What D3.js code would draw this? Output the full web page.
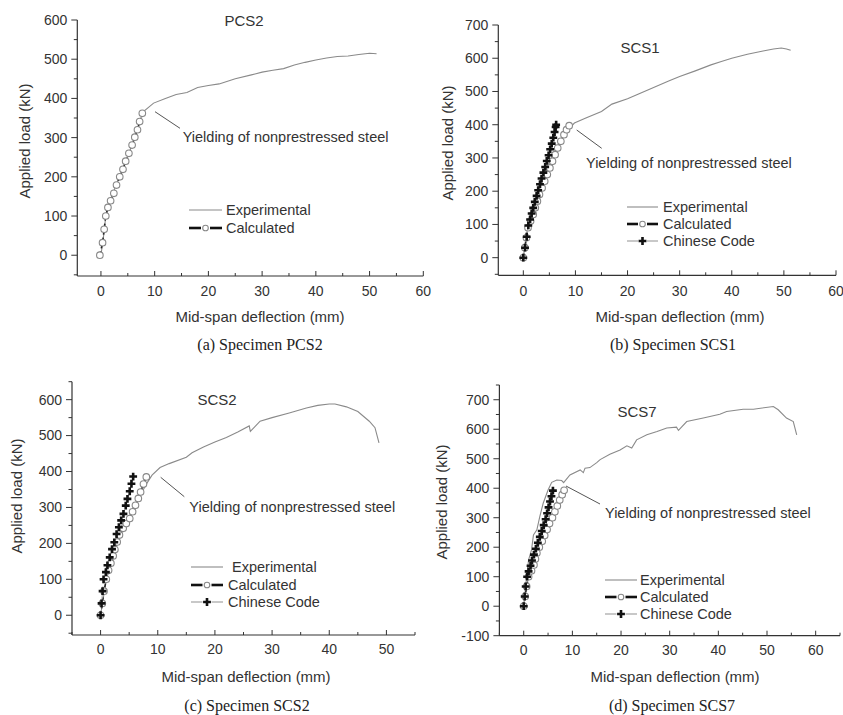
<!DOCTYPE html>
<html>
<head>
<meta charset="utf-8">
<script src="https://cdn.jsdelivr.net/npm/d3@7"></script>
<style>
  html, body { margin: 0; padding: 0; background: #fff; }
  svg { display: block; }
  text { font-family: "Liberation Sans", Arial, sans-serif; fill: #333; }
  .cap { font-family: "Liberation Serif", "Times New Roman", serif; fill: #222; }
</style>
</head>
<body>
<svg id="chart" width="843" height="715"></svg>
<script>
// ---------------- DATA ----------------
const xTickLabelsA = [0, 10, 20, 30, 40, 50, 60];
const yTickLabelsA = [0, 100, 200, 300, 400, 500, 600];
const yTickLabelsB = [0, 100, 200, 300, 400, 500, 600, 700];
const xTickLabelsC = [0, 10, 20, 30, 40, 50];
const yTickLabelsC = [0, 100, 200, 300, 400, 500, 600];
const xTickLabelsD = [0, 10, 20, 30, 40, 50, 60];
const yTickLabelsD = [-100, 0, 100, 200, 300, 400, 500, 600, 700];

const seriesNames = ["Experimental", "Calculated", "Chinese Code"];
const panelTitles = ["PCS2", "SCS1", "SCS2", "SCS7"];
const panelCaptions = ["(a) Specimen PCS2", "(b) Specimen SCS1", "(c) Specimen SCS2", "(d) Specimen SCS7"];
const annotationText = "Yielding of nonprestressed steel";
const xTitle = "Mid-span deflection (mm)";
const yTitle = "Applied load (kN)";

// (a) PCS2  [deflection mm, load kN]
const pcs2Exp = [[0,0],[0.5,50],[0.9,100],[2,150],[3,185],[4,218],[5,252],[6,290],[7,330],[7.8,365],[9.8,388],
  [12,400],[14,410],[16,415],[18,428],[20,433],[22,437],[25,450],[28,460],[30,467],[32,472],[34,476],[36,485],
  [38,492],[40,498],[42,503],[44,507],[46,508],[48,512],[50,515],[51.3,514]];
const pcs2Calc = [[-0.2,0],[0.3,32],[0.6,66],[0.9,100],[1.3,122],[1.8,139],[2.4,158],[2.9,179],[3.5,200],[4.1,219],
  [4.6,240],[5.2,260],[5.8,281],[6.3,301],[6.8,320],[7.2,341],[7.7,362]];

// (b) SCS1
const scs1Exp = [[0,0],[0.5,60],[1,100],[1.5,130],[2.2,155],[3,195],[4,245],[5,290],[6,320],[7,345],[8,375],[9.8,405],
  [12,420],[15,440],[17,462],[20,478],[22,492],[25,512],[28,532],[30,545],[33,562],[36,580],[38,590],[40,600],
  [43,612],[46,622],[48,628],[49.5,631],[50.5,628],[51.3,624]];
const scs1Calc = [[0,0],[0.3,30],[0.6,60],[0.9,90],[1.4,110],[1.9,130],[2.3,150],[2.7,170],[3.1,190],[3.6,210],
  [4.1,230],[4.6,250],[5.1,270],[5.6,290],[6.1,310],[6.6,330],[7.2,350],[7.8,370],[8.3,385],[8.8,397]];
const scs1Code = [[0,0],[0.33,30],[0.65,63],[0.96,97],[1.3,115],[1.6,133],[1.9,150],[2.2,168],[2.55,186],[2.85,203],
  [3.2,221],[3.5,238],[3.85,256],[4.2,273],[4.5,291],[4.85,308],[5.15,326],[5.45,343],[5.75,361],[6.0,378],[6.2,393],[6.3,400]];

// (c) SCS2
const scs2Exp = [[0,0],[0.5,50],[1,100],[2,150],[3,200],[4,240],[5,275],[6,305],[7,335],[8,365],[9,390],[10.4,411],
  [12,422],[15,440],[16,452],[18,468],[20,482],[22,495],[24,510],[26,527],[26.2,512],[27,525],[27.9,540],[30,550],
  [33,563],[36,577],[38,584],[40,588],[41,588],[43,580],[45,567],[47,540],[48,522],[48.7,480]];
const scs2Calc = [[0,0],[0.3,33],[0.6,67],[1.0,100],[1.4,125],[1.8,145],[2.2,165],[2.5,183],[2.9,204],[3.3,223],
  [3.95,242],[4.5,255],[5.1,269],[5.6,288],[6.1,306],[6.6,325],[7.0,343],[7.5,365],[8.0,385]];
const scs2Code = [[0,0],[0.17,33],[0.35,67],[0.52,100],[0.93,120],[1.2,139],[1.6,161],[2.0,184],[2.4,203],[2.8,226],
  [3.2,245],[3.6,264],[4.0,282],[4.4,305],[4.7,324],[5.1,345],[5.4,366],[5.7,386]];

// (d) SCS7
const scs7Exp = [[0,0],[0.3,50],[0.6,100],[1.0,157],[1.6,191],[2.0,242],[2.7,259],[3.3,304],[4.0,349],[5.0,394],
  [5.75,420],[6.8,428],[7.8,426],[8.2,419],[9.5,445],[11.6,462],[12.25,453],[12.6,468],[13.6,470],[15,487],[15.7,497],
  [17.7,515],[19.8,530],[21.2,544],[22.2,536],[23.2,564],[25.3,581],[27.4,592],[29.4,604],[31.4,607],[31.8,596],
  [33.5,626],[36.9,638],[40.3,651],[41.7,660],[45.1,668],[47.2,668],[51.3,677],[52.3,666],[54,638],[55.4,626],[56.1,581]];
const scs7Calc = [[0,0],[0.3,33],[0.6,67],[1.0,100],[1.6,120],[2.1,140],[2.4,160],[2.7,180],[3.2,200],[3.8,220],
  [4.3,240],[4.8,260],[5.3,280],[5.9,300],[6.4,320],[6.9,340],[7.4,360],[7.9,378],[8.3,393]];
const scs7Code = [[0,0],[0.2,33],[0.4,67],[0.7,100],[1.0,118],[1.4,137],[1.7,155],[2.1,175],[2.5,195],[2.9,215],
  [3.3,235],[3.7,255],[4.1,275],[4.5,295],[4.8,315],[5.1,335],[5.4,355],[5.7,373],[6.0,392]];

// ---------------- LAYOUT ----------------
const panels = [
  { exp: pcs2Exp, calc: pcs2Calc, code: null, xd: [-4.4, 60], xr: [77.3, 423.3], yd: [-53, 600], yr: [276, 20],
    xt: xTickLabelsA, yt: yTickLabelsA, minorY: 50,
    title: [244, 21], ytitle: [25, 141], xlab: [260, 317], cap: [260, 344], tickY: 296,
    lead: [[155, 111.7], [180, 128.3]], ann: [182.7, 141.5],
    leg: { x0: 189, x1: 222, tx: 226, ys: [210, 228] } },
  { exp: scs1Exp, calc: scs1Calc, code: scs1Code, xd: [-4.8, 60], xr: [498.3, 836], yd: [-53, 700], yr: [275.3, 25],
    xt: xTickLabelsA, yt: yTickLabelsB, minorY: 50,
    title: [640, 48], ytitle: [448, 143], xlab: [680, 317], cap: [673, 344], tickY: 296,
    lead: [[576.7, 130], [601.7, 148.3]], ann: [586, 168],
    leg: { x0: 627, x1: 658, tx: 663, ys: [207, 224, 241] } },
  { exp: scs2Exp, calc: scs2Calc, code: scs2Code, xd: [-5, 55], xr: [72, 415], yd: [-55, 650], yr: [635, 381.7],
    xt: xTickLabelsC, yt: yTickLabelsC, minorY: 50,
    title: [217, 400], ytitle: [17, 496], xlab: [246, 677], cap: [247, 705], tickY: 654,
    lead: [[160.7, 477.3], [184.3, 496.7]], ann: [189.3, 511.5],
    leg: { x0: 191, x1: 223, tx: 228, ys: [567, 585, 602] } },
  { exp: scs7Exp, calc: scs7Calc, code: scs7Code, xd: [-5, 65], xr: [499.4, 840], yd: [-100, 750], yr: [635.7, 385],
    xt: xTickLabelsD, yt: yTickLabelsD, minorY: 50,
    title: [637, 412], ytitle: [442, 502], xlab: [675, 677], cap: [672, 705], tickY: 655,
    lead: [[566, 486], [600, 504]], ann: [605, 518],
    leg: { x0: 605, x1: 637, tx: 640, ys: [580, 597, 614] } }
];

const svg = d3.select("#chart");
const AX = "#333";

panels.forEach((p, i) => {
  const g = svg.append("g");
  const x = d3.scaleLinear().domain(p.xd).range(p.xr);
  const y = d3.scaleLinear().domain(p.yd).range(p.yr);
  const x0 = p.xr[0], yB = p.yr[0];

  // axis lines
  g.append("line").attr("x1", x0).attr("x2", p.xr[1]).attr("y1", yB).attr("y2", yB)
    .attr("stroke", AX).attr("stroke-width", 1.2);
  g.append("line").attr("x1", x0).attr("x2", x0).attr("y1", yB).attr("y2", p.yr[1])
    .attr("stroke", AX).attr("stroke-width", 1.2);

  // x ticks (inward), major + minor
  const xMinor = d3.range(Math.ceil(p.xd[0] / 5) * 5, p.xd[1] + 0.01, 5);
  xMinor.forEach(v => {
    const major = Math.abs(v % 10) < 1e-9;
    g.append("line").attr("x1", x(v)).attr("x2", x(v)).attr("y1", yB).attr("y2", yB - (major ? 5 : 3))
      .attr("stroke", AX).attr("stroke-width", 1);
  });
  p.xt.forEach(v => {
    g.append("text").attr("x", x(v)).attr("y", p.tickY).attr("text-anchor", "middle")
      .attr("font-size", 14).text(v);
  });

  // y ticks (outward), major + minor
  const yMinor = d3.range(Math.ceil(p.yd[0] / p.minorY) * p.minorY, p.yd[1] + 0.01, p.minorY);
  yMinor.forEach(v => {
    const major = Math.abs(v % 100) < 1e-9;
    g.append("line").attr("x1", x0).attr("x2", x0 - (major ? 6 : 3.5)).attr("y1", y(v)).attr("y2", y(v))
      .attr("stroke", AX).attr("stroke-width", 1);
  });
  p.yt.forEach(v => {
    g.append("text").attr("x", x0 - 10).attr("y", y(v)).attr("dy", "0.35em").attr("text-anchor", "end")
      .attr("font-size", 14).text(v);
  });

  // titles
  g.append("text").attr("x", p.title[0]).attr("y", p.title[1]).attr("dy", "0.35em").attr("text-anchor", "middle")
    .attr("font-size", 15).text(panelTitles[i]);
  g.append("text").attr("transform", `translate(${p.ytitle[0]},${p.ytitle[1]}) rotate(-90)`)
    .attr("dy", "0.35em").attr("text-anchor", "middle").attr("font-size", 15).text(yTitle);
  g.append("text").attr("x", p.xlab[0]).attr("y", p.xlab[1]).attr("dy", "0.35em").attr("text-anchor", "middle")
    .attr("font-size", 15).text(xTitle);
  g.append("text").attr("class", "cap").attr("x", p.cap[0]).attr("y", p.cap[1]).attr("dy", "0.35em")
    .attr("text-anchor", "middle").attr("font-size", 16).text(panelCaptions[i]);

  const line = d3.line().x(d => x(d[0])).y(d => y(d[1]));

  // experimental
  g.append("path").attr("d", line(p.exp)).attr("fill", "none").attr("stroke", "#8a8a8a").attr("stroke-width", 1.1);

  // calculated
  g.append("path").attr("d", line(p.calc)).attr("fill", "none").attr("stroke", "#222")
    .attr("stroke-width", 1.6).attr("stroke-dasharray", "4,3");
  g.selectAll(null).data(p.calc).enter().append("circle")
    .attr("cx", d => x(d[0])).attr("cy", d => y(d[1])).attr("r", 3.3)
    .attr("fill", "#fff").attr("stroke", "#888").attr("stroke-width", 1.1);

  // chinese code
  const cross = d3.symbol().type(d3.symbolCross).size(34);
  if (p.code) {
    g.append("path").attr("d", line(p.code)).attr("fill", "none").attr("stroke", "#aaa")
      .attr("stroke-width", 1.1).attr("stroke-dasharray", "5,3");
    g.selectAll(null).data(p.code).enter().append("path")
      .attr("transform", d => `translate(${x(d[0])},${y(d[1])})`).attr("d", cross()).attr("fill", "#111");
  }

  // annotation
  g.append("line").attr("x1", p.lead[0][0]).attr("y1", p.lead[0][1]).attr("x2", p.lead[1][0]).attr("y2", p.lead[1][1])
    .attr("stroke", "#555").attr("stroke-width", 1);
  g.append("text").attr("x", p.ann[0]).attr("y", p.ann[1]).attr("font-size", 14.5).text(annotationText);

  // legend
  const L = p.leg, mid = (L.x0 + L.x1) / 2;
  g.append("line").attr("x1", L.x0).attr("x2", L.x1).attr("y1", L.ys[0]).attr("y2", L.ys[0])
    .attr("stroke", "#8a8a8a").attr("stroke-width", 1.1);
  g.append("text").attr("x", L.tx + (i === 2 ? 4 : 0)).attr("y", L.ys[0]).attr("dy", "0.35em").attr("font-size", 14.5).text(seriesNames[0]);
  [[L.x0, mid - 4.5], [mid + 4.5, L.x1]].forEach(s => {
    g.append("line").attr("x1", s[0]).attr("x2", s[1]).attr("y1", L.ys[1]).attr("y2", L.ys[1])
      .attr("stroke", "#111").attr("stroke-width", 2.6);
  });
  g.append("circle").attr("cx", mid).attr("cy", L.ys[1]).attr("r", 2.8).attr("fill", "#fff")
    .attr("stroke", "#888").attr("stroke-width", 1.1);
  g.append("text").attr("x", L.tx).attr("y", L.ys[1]).attr("dy", "0.35em").attr("font-size", 14.5).text(seriesNames[1]);
  if (p.code) {
    [[L.x0, mid - 4.5], [mid + 4.5, L.x1]].forEach(s => {
      g.append("line").attr("x1", s[0]).attr("x2", s[1]).attr("y1", L.ys[2]).attr("y2", L.ys[2])
        .attr("stroke", "#aaa").attr("stroke-width", 1.3);
    });
    g.append("path").attr("transform", `translate(${mid},${L.ys[2]})`).attr("d", cross()).attr("fill", "#111");
    g.append("text").attr("x", L.tx).attr("y", L.ys[2]).attr("dy", "0.35em").attr("font-size", 14.5).text(seriesNames[2]);
  }
});
</script>
</body>
</html>
